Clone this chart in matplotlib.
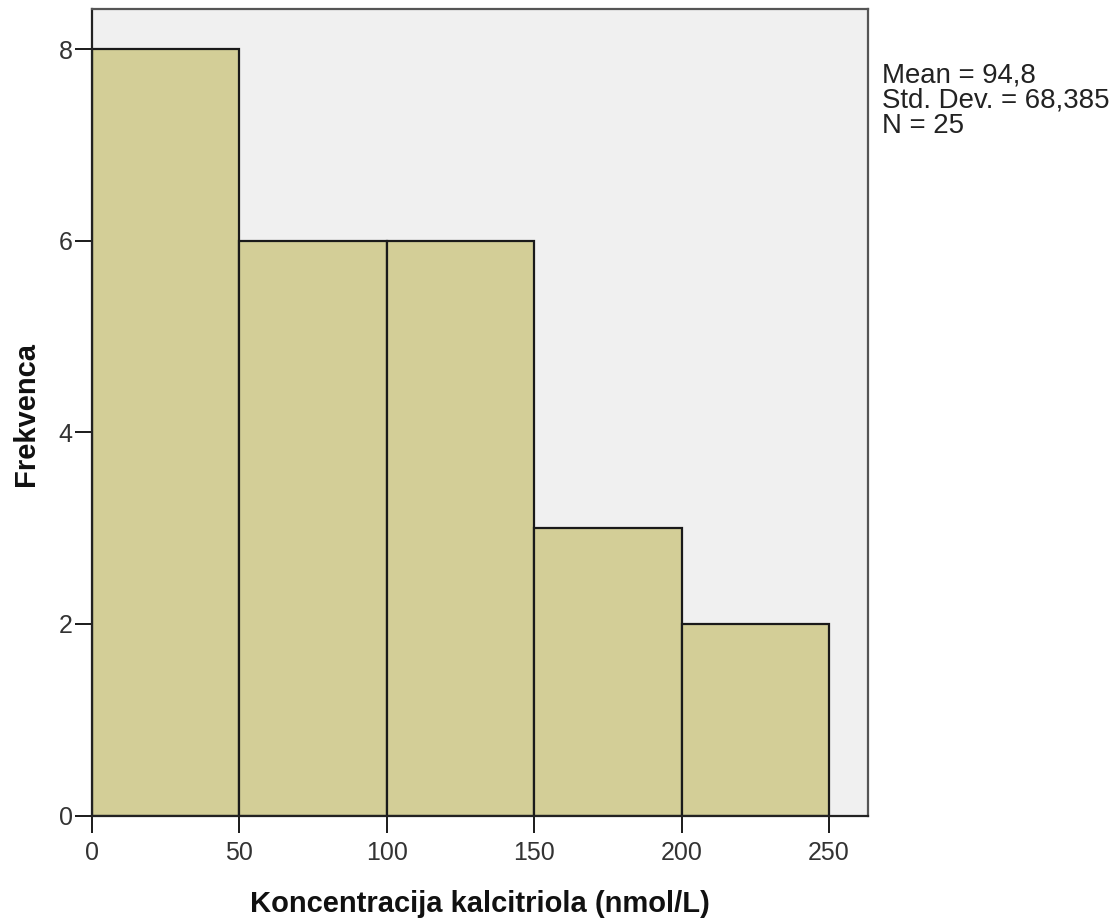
import matplotlib
matplotlib.use("Agg")
import matplotlib.pyplot as plt
import numpy as np

# Histogram of calcitriol concentration
bin_edges = [0, 50, 100, 150, 200, 250]
counts = [8, 6, 6, 3, 2]
x_ticks = [0, 50, 100, 150, 200, 250]
y_ticks = [0, 2, 4, 6, 8]
stats_lines = ["Mean = 94,8", "Std. Dev. = 68,385", "N = 25"]
x_label = "Koncentracija kalcitriola (nmol/L)"
y_label = "Frekvenca"

plt.rcParams["font.family"] = ["Liberation Sans", "DejaVu Sans"]

W, H = 1115, 919
fig = plt.figure(figsize=(W / 100, H / 100), dpi=100)
ax = fig.add_axes([92 / W, 1 - 815.5 / H, (868 - 92) / W, (815.5 - 9) / H])
ax.set_facecolor("#f0f0f0")

ax.hist(bin_edges[:-1], bins=bin_edges, weights=counts,
        color="#d3ce97", edgecolor="#1a1a1a", linewidth=1.6)

ax.set_xlim(0, 263.2)
ax.set_ylim(0, 8.42)
ax.set_xticks(x_ticks)
ax.set_yticks(y_ticks)
ax.tick_params(axis="both", direction="out", length=12.5, width=1.4,
               color="#1a1a1a", labelsize=18, labelcolor="#333333")
ax.tick_params(axis="x", pad=6)
ax.tick_params(axis="y", pad=1.5)

for side in ["left", "bottom", "right", "top"]:
    ax.spines[side].set_linewidth(1.6)
    ax.spines[side].set_color("#222222")
ax.spines["top"].set_color("#555555")
ax.spines["right"].set_color("#555555")

ax.set_xlabel(x_label, fontsize=21, fontweight="bold", color="#111111", labelpad=18)
ax.set_ylabel(y_label, fontsize=21, fontweight="bold", color="#111111",
              va="center", ha="center")
ax.yaxis.set_label_coords(26 / W, 1 - 414 / H, transform=fig.transFigure)

fig.text(882 / W, 1 - 62 / H, "\n".join(stats_lines), fontsize=19.9,
         color="#222222", ha="left", va="top", linespacing=0.97)

fig.savefig("out.png", dpi=100)
